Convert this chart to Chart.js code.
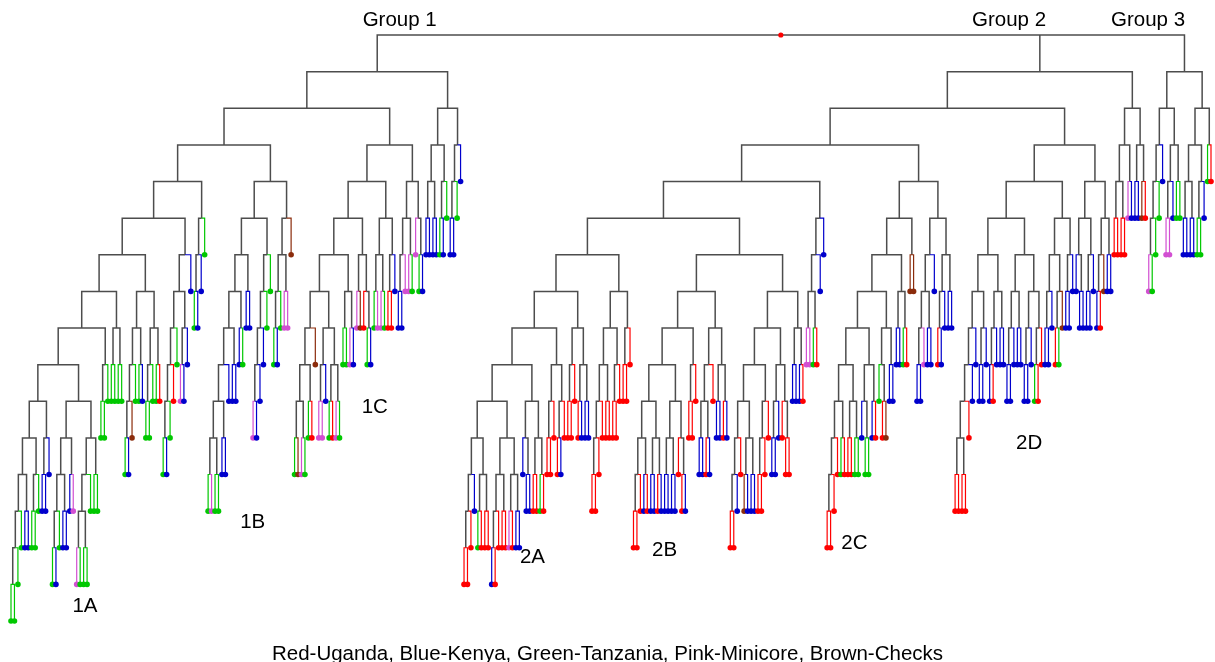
<!DOCTYPE html>
<html>
<head>
<meta charset="utf-8">
<script src="https://cdn.jsdelivr.net/npm/chart.js@4.4.1/dist/chart.umd.min.js"></script>
<style>
  html, body { margin: 0; padding: 0; background: #fff; }
  #wrap { width: 1215px; height: 662px; }
</style>
</head>
<body>
<div id="wrap"><canvas id="dendro" width="1215" height="662"></canvas></div>
<script>
// leaf codes: r = Uganda, b = Kenya, g = Tanzania, p = Minicore, n = Checks
// every "(...)" is one merge, drawn one level below its parent
const clade1A = "((((((((((gg)g)g)(bb))((gg)g))((bb)b))(((((gb)g)(bb))(bp))((((pg)(gg))g)(gg))))((gg)g))((gg)(gg)))(((((gb)n)g)(gb))(((gg)g)(gr))))";
const clade1Aside = "((((((gb)g)r)g)((pb)b))b)";
const clade1Atail = "(((gb)b)g)";
const clade1B = "(((((((((gp)(gg))(bb))b)(bb))(bg))(bb))(((((pb)b)b)g)g))((((gb)g)(pp))n))";
const clade1C = "(((((((((gn)(pg))(gr))n)(((pp)b)((gr)(pg))))((gg)(pb)))((pn)(r(gb))))(((gp)(pg))((rr)b)))((((bb)p)(pg))(p(gb))))";
const group1Right = "((((bb)(bb))((gb)g))(((bb)g)b))";

const clade2A = "(((((((((rr)r)b)((gr)(rr)))((((br)r)(rr))((pr)(bb))))((b(bb))((rr)(gr))))(((rr)r)((rb)r)))(((rr)r)((rb)(bb))))((((((rr)r)r)(rr))((rr)r))((rr)r)))";
const clade2B = "((((((((rr)r)(br))((bb)(rb)))(((bb)(bb))(r(rb))))((rr)r))((((bb)(rb))r)((bb)(rb))))(((((((rr)b)r)((nb)(bb)))(((rr)r)r))(((bb)b)(r(rr))))((bb)(br))))";
const clade2Bside = "((((pp)(gr))b)b)";
const clade2C = "((((((((((rr)r)r)(gr))((rr)(gg)))((b(gg))(br)))((g(rn))(bb)))((bb)(gr)))(nn))(((((bb)p)(bb))b)(((rb)b)(bb))))";
const clade2D = "(((((((((rr)(rr))r)b)b)((bb)b))(((br)b)(bb)))((((bb)b)(bb))(((bb)b)((gr)r))))((((bb)b)((rg)n))((bb)b)))";
const clade2Dside = "(((b(bb))((bb)b))(((br)n)(bb)))";
const group2Right = "((((rr)(rr))(pb))((bb)(nr)))";

const group3 = "((((((pg)g)g)b)(((pp)b)(gg)))((((bb)(bb))((gg)b))(gr)))";

const colourNames = ["r", "b", "g", "p", "n"];
const colourValues = ["#ff0000", "#0000cc", "#00c800", "#d24fd2", "#8b2c0c"];

const groupNames = ["Group 1", "Group 2", "Group 3"];
const cladeNames = ["1A", "1B", "1C", "2A", "2B", "2C", "2D"];
const legendText = "Red-Uganda, Blue-Kenya, Green-Tanzania, Pink-Minicore, Brown-Checks";

// label anchors in chart units (leaf index, merge level)
const groupAt = [[112.4, -0.41], [288.6, -0.41], [328.8, -0.41]];
const cladeAt = [[21.4, 15.59], [69.9, 13.3], [105.2, 10.16], [150.8, 14.25], [189.0, 14.06], [243.9, 13.87], [294.4, 11.14]];

const group1 = "(((((" + clade1A + clade1Aside + ")" + clade1Atail + ")" + clade1B + ")" + clade1C + ")" + group1Right + ")";
const group2 = "((((" + "(" + clade2A + clade2B + ")" + clade2Bside + ")" + clade2C + ")" + "(" + clade2D + clade2Dside + "))" + group2Right + ")";
const tree = "(" + group1 + group2 + group3 + ")";

function parseTree(str) {
  let i = 0;
  const leaves = [];
  function node(depth) {
    if (i >= str.length) throw new Error("tree string ends early");
    if (str[i] === "(") {
      i++;
      const kids = [];
      while (str[i] !== ")") {
        if (i >= str.length) throw new Error("unbalanced tree string");
        kids.push(node(depth + 1));
      }
      i++;
      return { kids: kids, depth: depth, x: (kids[0].x + kids[kids.length - 1].x) / 2 };
    }
    const leaf = { colour: str[i], depth: depth, x: leaves.length };
    i++;
    leaves.push(leaf);
    return leaf;
  }
  const root = node(0);
  if (i !== str.length) throw new Error("extra characters after tree at " + i);
  return { root: root, leaves: leaves };
}

const parsed = parseTree(tree);
const colourOf = {};
colourNames.forEach((c, k) => { colourOf[c] = colourValues[k]; });

const segs = { grey: [] };
colourNames.forEach(c => { segs[c] = []; });
function walk(node) {
  if (!node.kids) return;
  node.kids.forEach(k => {
    const key = k.kids ? "grey" : k.colour;
    segs[key].push({ x: node.x, y: node.depth }, { x: k.x, y: node.depth }, { x: k.x, y: k.depth }, { x: k.x, y: null });
    walk(k);
  });
}
walk(parsed.root);

const datasets = [];
datasets.push({
  data: parsed.leaves.map(l => ({ x: l.x, y: l.depth })),
  showLine: false,
  pointRadius: 2.8,
  pointBorderWidth: 0,
  pointBackgroundColor: parsed.leaves.map(l => colourOf[l.colour]),
  order: 0,
  clip: false
});
datasets.push({
  data: [{ x: parsed.root.x, y: 0 }],
  showLine: false,
  pointRadius: 2.6,
  pointBorderWidth: 0,
  pointBackgroundColor: "#ff0000",
  order: 0,
  clip: false
});
colourNames.forEach(c => {
  datasets.push({
    data: segs[c],
    borderColor: colourOf[c],
    borderWidth: 1.2,
    pointRadius: 0,
    tension: 0,
    spanGaps: false,
    order: 1,
    clip: false
  });
});
datasets.push({
  data: segs.grey,
  borderColor: "#4d4d4d",
  borderWidth: 1.5,
  pointRadius: 0,
  tension: 0,
  spanGaps: false,
  order: 2,
  clip: false
});

const labelFont = '20.5px "Liberation Sans", Arial, sans-serif';

const dendroChart = new Chart(document.getElementById("dendro"), {
  type: "line",
  data: { datasets: datasets },
  options: {
    animation: false,
    responsive: false,
    devicePixelRatio: 1,
    events: [],
    layout: { padding: { left: 11, right: 3, top: 35, bottom: 41 } },
    plugins: {
      legend: { display: false },
      tooltip: { enabled: false }
    },
    scales: {
      x: { type: "linear", display: false, min: 0, max: parsed.leaves.length - 1 },
      y: { type: "linear", display: false, min: 0, max: 16, reverse: true }
    }
  },
  plugins: [{
    id: "dendroLabels",
    afterDraw: (chart) => {
      const ctx = chart.ctx;
      const xs = chart.scales.x, ys = chart.scales.y;
      ctx.save();
      ctx.fillStyle = "#000";
      ctx.font = labelFont;
      ctx.textAlign = "center";
      ctx.textBaseline = "middle";
      groupNames.forEach((t, k) => {
        ctx.fillText(t, xs.getPixelForValue(groupAt[k][0]), ys.getPixelForValue(groupAt[k][1]));
      });
      cladeNames.forEach((t, k) => {
        ctx.fillText(t, xs.getPixelForValue(cladeAt[k][0]), ys.getPixelForValue(cladeAt[k][1]));
      });
      ctx.fillText(legendText, chart.width / 2, chart.height - 8);
      ctx.restore();
    }
  }]
});
</script>
</body>
</html>
